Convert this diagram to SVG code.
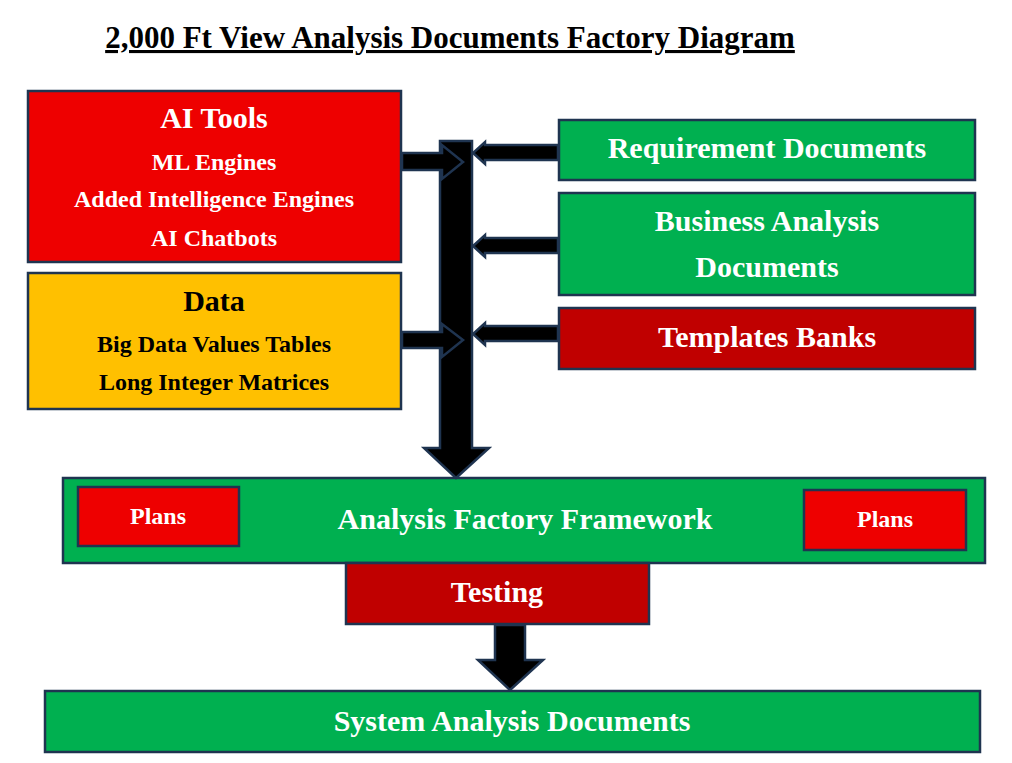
<svg xmlns="http://www.w3.org/2000/svg" width="1012" height="763" viewBox="0 0 1012 763">
<style>
.b{stroke:#1f3450;stroke-width:2.5}
.g{fill:#00b050}.r{fill:#ee0000}.d{fill:#c00000}.y{fill:#ffc000}
text{font-family:"Liberation Serif",serif;font-weight:bold;text-anchor:middle}
.w{fill:#fff}.k{fill:#000}
.a{fill:#000;stroke:#1f3450;stroke-width:2.5;stroke-linejoin:miter}
</style>
<rect width="1012" height="763" fill="#fff"/>
<text x="450" y="48" font-size="31" class="k" text-decoration="underline">2,000 Ft View Analysis Documents Factory Diagram</text>
<g id="ai"><rect class="b r" x="28" y="91" width="373" height="171"/>
<text class="w" x="214" y="128" font-size="30">AI Tools</text>
<text class="w" x="214" y="170" font-size="24">ML Engines</text>
<text class="w" x="214" y="207" font-size="24">Added Intelligence Engines</text>
<text class="w" x="214" y="246" font-size="24">AI Chatbots</text></g>
<g id="data"><rect class="b y" x="28" y="273" width="373" height="136"/>
<text class="k" x="214" y="311" font-size="30">Data</text>
<text class="k" x="214" y="352" font-size="24">Big Data Values Tables</text>
<text class="k" x="214" y="390" font-size="24">Long Integer Matrices</text></g>
<g id="req"><rect class="b g" x="559" y="120" width="416" height="60"/>
<text class="w" x="767" y="158" font-size="30">Requirement Documents</text></g>
<g id="ba"><rect class="b g" x="559" y="193" width="416" height="102"/>
<text class="w" x="767" y="231" font-size="30">Business Analysis</text>
<text class="w" x="767" y="277" font-size="30">Documents</text></g>
<g id="tpl"><rect class="b d" x="559" y="308" width="416" height="61"/>
<text class="w" x="767" y="347" font-size="30">Templates Banks</text></g>
<g id="fw"><rect class="b g" x="63" y="478" width="922" height="85"/>
<text class="w" x="525" y="529" font-size="30">Analysis Factory Framework</text></g>
<g id="plans1"><rect class="b r" x="78" y="487" width="161" height="59"/>
<text class="w" x="158" y="524" font-size="24">Plans</text></g>
<g id="plans2"><rect class="b r" x="804" y="490" width="162" height="60"/>
<text class="w" x="885" y="527" font-size="24">Plans</text></g>
<g id="test"><rect class="b d" x="346" y="563" width="303" height="61"/>
<text class="w" x="497" y="602" font-size="30">Testing</text></g>
<g id="sys"><rect class="b g" x="45" y="691" width="935" height="61"/>
<text class="w" x="512" y="731" font-size="30">System Analysis Documents</text></g>
<g id="connectors">
<polygon class="a" points="440,141 472,141 472,448 489,448 456,478 424,448 440,448"/>
<polygon class="a" points="402,153 442,153 442,145 463,162 442,179 442,170 402,170"/>
<polygon class="a" points="402,332 442,332 442,324 463,340 442,357 442,348 402,348"/>
<polygon class="a" points="558,145 485,145 485,142 473,153 485,164 485,160 558,160"/>
<polygon class="a" points="558,238 485,238 485,235 473,246 485,257 485,253 558,253"/>
<polygon class="a" points="558,326 485,326 485,323 473,334 485,345 485,341 558,341"/>
<polygon class="a" points="495,625 525,625 525,660 543,660 510,690 478,660 495,660"/>
</g>
</svg>
